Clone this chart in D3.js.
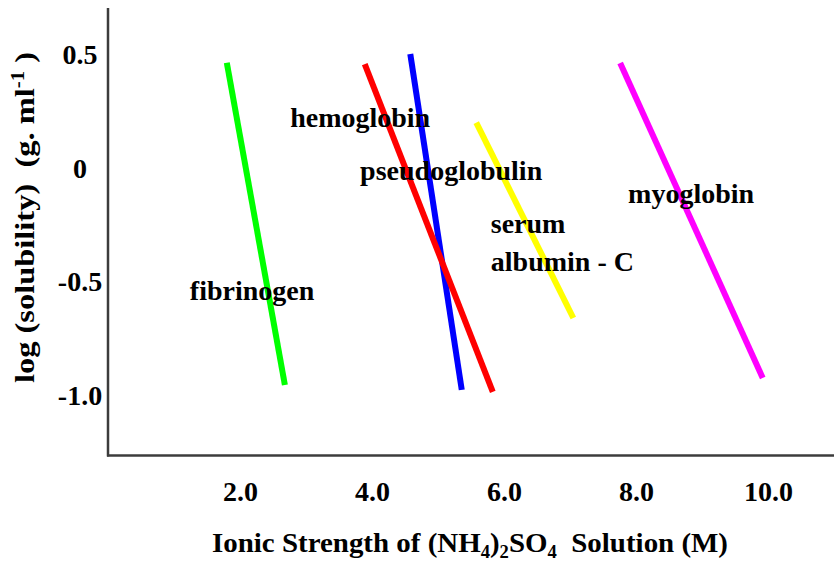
<!DOCTYPE html>
<html>
<head>
<meta charset="utf-8">
<script src="https://cdn.jsdelivr.net/npm/d3@7"></script>
<style>
  html, body { margin: 0; padding: 0; background: #fff; }
  svg { display: block; }
  text { font-family: "Liberation Serif", "DejaVu Serif", serif; font-weight: bold; fill: #000; }
</style>
</head>
<body>
<svg id="chart" width="834" height="562"></svg>
<script>
// ---- data ----
const proteins = ["fibrinogen", "pseudoglobulin", "hemoglobin", "serum albumin - C", "myoglobin"];
const colors   = ["#00ff00", "#0000ff", "#ff0000", "#ffff00", "#ff00ff"];
// each line: [ionic strength start, end], [log solubility start, end]
const xStart = [1.80, 4.58, 3.89, 5.58, 7.76];
const xEnd   = [2.68, 5.36, 5.83, 7.05, 9.92];
const yStart = [0.466, 0.504, 0.460, 0.202, 0.465];
const yEnd   = [-0.954, -0.976, -0.985, -0.659, -0.923];

const xTicks = [2, 4, 6, 8, 10];
const xTickLabels = ["2.0", "4.0", "6.0", "8.0", "10.0"];
const yTicks = [0.5, 0, -0.5, -1.0];
const yTickLabels = ["0.5", "0", "-0.5", "-1.0"];

// label text lines and anchor in data units
const labelText = [["fibrinogen"], ["pseudoglobulin"], ["hemoglobin"], ["serum", "albumin - C"], ["myoglobin"]];
const labelX = [1.24, 3.82, 2.76, 5.80, 7.88];
const labelY = [-0.580, -0.051, 0.183, -0.2845, -0.152];

const xDomain = [0, 11];
const yDomain = [-1.265, 0.707];

// ---- drawing ----
const svg = d3.select("#chart");
const x = d3.scaleLinear().domain(xDomain).range([108, 834]);
const y = d3.scaleLinear().domain(yDomain).range([455.5, 8]);

// axes lines (left and bottom only)
svg.append("line")
  .attr("x1", x(0)).attr("x2", x(0))
  .attr("y1", y(yDomain[1])).attr("y2", y(yDomain[0]) + 1)
  .attr("stroke", "#3c3c3c").attr("stroke-width", 2.5);
svg.append("line")
  .attr("x1", x(0) - 1).attr("x2", x(xDomain[1]))
  .attr("y1", y(yDomain[0])).attr("y2", y(yDomain[0]))
  .attr("stroke", "#3c3c3c").attr("stroke-width", 2.5);

// x axis ticks labels
const xAxis = d3.axisBottom(x).tickValues(xTicks).tickSize(0).tickPadding(26)
  .tickFormat((d, i) => xTickLabels[i]);
const gx = svg.append("g").attr("transform", `translate(0,${y(yDomain[0])})`).call(xAxis);
gx.select(".domain").remove();
gx.selectAll("text").style("font-family", "Liberation Serif").style("font-weight", "bold")
  .style("font-size", "28px").attr("fill", "#000");

// y axis tick labels
const yAxis = d3.axisLeft(y).tickValues(yTicks).tickSize(0)
  .tickFormat((d, i) => yTickLabels[i]);
const gy = svg.append("g").attr("transform", `translate(${x(0)},0)`).call(yAxis);
gy.select(".domain").remove();
gy.selectAll("text").style("font-family", "Liberation Serif").style("font-weight", "bold")
  .style("font-size", "28px").attr("fill", "#000")
  .attr("text-anchor", "middle").attr("x", -28);

// lines
const order = [0, 1, 2, 3, 4];
svg.append("g").selectAll("line").data(order).join("line")
  .attr("x1", i => x(xStart[i])).attr("y1", i => y(yStart[i]))
  .attr("x2", i => x(xEnd[i])).attr("y2", i => y(yEnd[i]))
  .attr("stroke", i => colors[i]).attr("stroke-width", 6)
  .attr("stroke-linecap", "butt");

// labels
const lg = svg.append("g");
order.forEach(i => {
  const t = lg.append("text")
    .attr("x", x(labelX[i])).attr("y", y(labelY[i]))
    .style("font-size", "28px");
  labelText[i].forEach((s, k) => {
    t.append("tspan").attr("x", x(labelX[i])).attr("dy", k === 0 ? 0 : 38).text(s);
  });
});

// x axis title
const xt = svg.append("text").attr("x", 212).attr("y", 552).style("font-size", "28px")
  .attr("textLength", 516).attr("lengthAdjust", "spacingAndGlyphs");
xt.append("tspan").text("Ionic Strength of (NH");
xt.append("tspan").attr("dy", 6).style("font-size", "18px").text("4");
xt.append("tspan").attr("dy", -6).text(")");
xt.append("tspan").attr("dy", 6).style("font-size", "18px").text("2");
xt.append("tspan").attr("dy", -6).text("SO");
xt.append("tspan").attr("dy", 6).style("font-size", "18px").text("4");
xt.append("tspan").attr("dy", -6).text("\u00a0 Solution (M)");

// y axis title
const yt = svg.append("text")
  .attr("transform", "translate(34,383) rotate(-90)")
  .attr("x", 0).attr("y", 0).style("font-size", "28px")
  .attr("textLength", 331).attr("lengthAdjust", "spacingAndGlyphs");
yt.append("tspan").text("log (solubility)\u00a0 (g. ml");
yt.append("tspan").attr("dy", -10).style("font-size", "18px").text("-1");
yt.append("tspan").attr("dy", 10).text(" )");
</script>
</body>
</html>
